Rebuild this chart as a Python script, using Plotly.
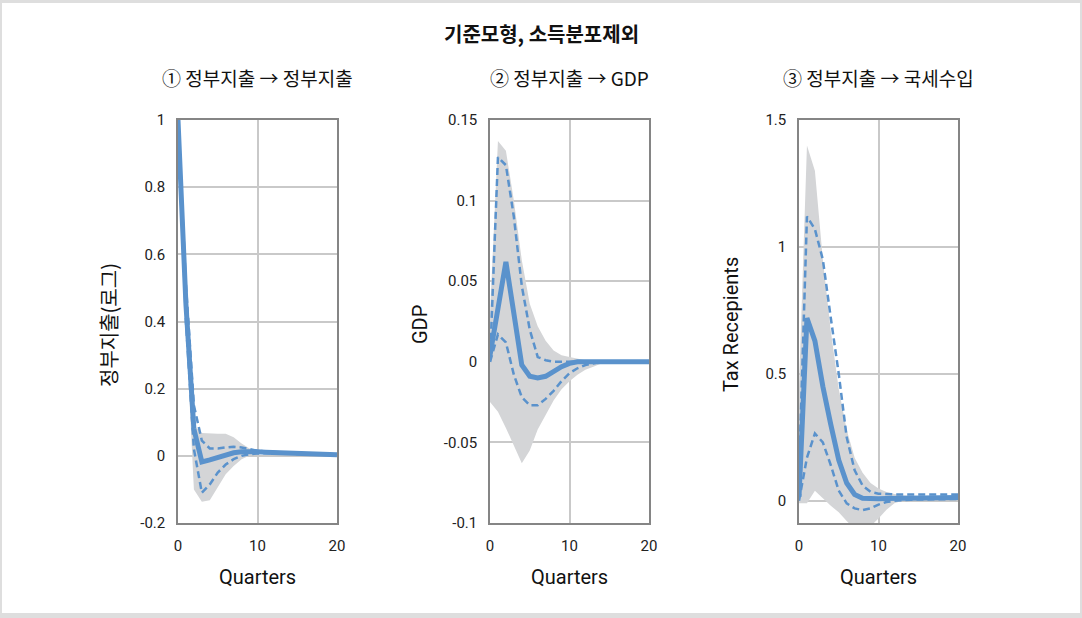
import plotly.graph_objects as go

# ---------------- data ----------------
quarters = list(range(21))

# Panel 1: 정부지출 -> 정부지출
gov_mid = [1.0, 0.45, 0.08, -0.018, -0.012, -0.004, 0.004, 0.009, 0.012, 0.013, 0.012,
           0.011, 0.010, 0.009, 0.008, 0.007, 0.006, 0.006, 0.005, 0.004, 0.003]
gov_up = [1.0, 0.51, 0.15, 0.045, 0.022, 0.022, 0.025, 0.027, 0.025, 0.020, 0.015,
          0.013, 0.011, 0.010, 0.009, 0.008, 0.007, 0.006, 0.005, 0.005, 0.004]
gov_lo = [1.0, 0.40, 0.02, -0.110, -0.085, -0.050, -0.026, -0.010, 0.000, 0.005, 0.007,
          0.008, 0.008, 0.007, 0.006, 0.006, 0.005, 0.004, 0.004, 0.003, 0.003]
gov_band_up = [1.0, 0.53, 0.09, 0.068, 0.066, 0.066, 0.066, 0.055, 0.037, 0.022, 0.015,
               0.012, 0.010, 0.009, 0.008, 0.007, 0.006, 0.005, 0.004, 0.004, 0.003]
gov_band_lo = [1.0, 0.38, -0.10, -0.137, -0.132, -0.095, -0.055, -0.030, -0.010, 0.001, 0.005,
               0.006, 0.006, 0.006, 0.005, 0.005, 0.004, 0.004, 0.003, 0.003, 0.003]

# Panel 2: 정부지출 -> GDP
gdp_mid = [0.004, 0.034, 0.062, 0.030, -0.002, -0.009, -0.010, -0.009, -0.006, -0.003, -0.001,
           0.0, 0.0, 0.0, 0.0, 0.0, 0.0, 0.0, 0.0, 0.0, 0.0]
gdp_up = [0.0, 0.127, 0.122, 0.090, 0.047, 0.020, 0.003, 0.001, 0.0, 0.0, 0.0,
          0.0, 0.0, 0.0, 0.0, 0.0, 0.0, 0.0, 0.0, 0.0, 0.0]
gdp_lo = [0.0, 0.017, 0.012, -0.008, -0.022, -0.027, -0.027, -0.023, -0.018, -0.012, -0.007,
          -0.004, -0.002, -0.001, 0.0, 0.0, 0.0, 0.0, 0.0, 0.0, 0.0]
gdp_band_up = [0.030, 0.137, 0.131, 0.100, 0.063, 0.036, 0.022, 0.013, 0.007, 0.004, 0.003,
               0.002, 0.001, 0.001, 0.0, 0.0, 0.0, 0.0, 0.0, 0.0, 0.0]
gdp_band_lo = [-0.025, -0.031, -0.041, -0.052, -0.063, -0.055, -0.042, -0.033, -0.024, -0.017, -0.012,
               -0.008, -0.005, -0.003, -0.001, 0.0, 0.0, 0.0, 0.0, 0.0, 0.0]

# Panel 3: 정부지출 -> 국세수입
tax_mid = [0.015, 0.72, 0.63, 0.45, 0.30, 0.16, 0.07, 0.025, 0.010, 0.008, 0.008,
           0.009, 0.010, 0.010, 0.011, 0.011, 0.012, 0.012, 0.012, 0.013, 0.013]
tax_up = [0.10, 1.12, 1.07, 0.95, 0.72, 0.50, 0.25, 0.12, 0.06, 0.035, 0.028,
          0.026, 0.025, 0.025, 0.025, 0.025, 0.025, 0.025, 0.025, 0.025, 0.025]
tax_lo = [0.0, 0.17, 0.265, 0.23, 0.14, 0.04, -0.010, -0.030, -0.037, -0.030, -0.015,
          -0.005, 0.0, 0.003, 0.004, 0.005, 0.005, 0.006, 0.006, 0.006, 0.007]
tax_band_up = [0.45, 1.40, 1.30, 0.95, 0.67, 0.44, 0.28, 0.17, 0.11, 0.07, 0.048,
               0.035, 0.027, 0.022, 0.020, 0.020, 0.018, 0.018, 0.017, 0.017, 0.017]
tax_band_lo = [-0.01, -0.01, 0.04, 0.01, -0.02, -0.045, -0.08, -0.11, -0.11, -0.10, -0.07,
               -0.035, -0.01, 0.0, 0.004, 0.005, 0.006, 0.007, 0.008, 0.008, 0.009]

main_title = "기준모형, 소득분포제외"
panel_titles = ["① 정부지출 → 정부지출", "② 정부지출 → GDP", "③ 정부지출 → 국세수입"]
y_titles = ["정부지출(로그)", "GDP", "Tax Recepients"]
x_title = "Quarters"
x_ticks = [0, 10, 20]
y_ticks = [
    ([-0.2, 0, 0.2, 0.4, 0.6, 0.8, 1], ["-0.2", "0", "0.2", "0.4", "0.6", "0.8", "1"]),
    ([-0.1, -0.05, 0, 0.05, 0.1, 0.15], ["-0.1", "-0.05", "0", "0.05", "0.1", "0.15"]),
    ([0, 0.5, 1, 1.5], ["0", "0.5", "1", "1.5"]),
]
y_ranges = [[-0.2, 1.0], [-0.1, 0.15], [-0.0875, 1.5]]

# ---------------- styling / layout ----------------
W, H = 1082, 618
L, R, T, B = 178, 958, 120, 523


def px(x):
    return (x - L) / (R - L)


def py(y):
    return (B - y) / (B - T)


panel_px = [(178, 337), (490, 649), (799, 958)]
BLUE = "rgb(90,146,204)"
SHADE = "rgb(212,213,215)"
FONT = "Roboto, 'Noto Sans CJK KR', sans-serif"
KFONT = "'Noto Sans CJK KR', Roboto, sans-serif"

panels = [
    (gov_mid, gov_up, gov_lo, gov_band_up, gov_band_lo),
    (gdp_mid, gdp_up, gdp_lo, gdp_band_up, gdp_band_lo),
    (tax_mid, tax_up, tax_lo, tax_band_up, tax_band_lo),
]

fig = go.Figure()
for i, (mid, up, lo, bup, blo) in enumerate(panels):
    xa = "x" if i == 0 else f"x{i+1}"
    ya = "y" if i == 0 else f"y{i+1}"
    common = dict(x=quarters, xaxis=xa, yaxis=ya, showlegend=False, hoverinfo="skip")
    fig.add_trace(go.Scatter(y=bup, mode="lines", line=dict(width=0, color=SHADE), **common))
    fig.add_trace(go.Scatter(y=blo, mode="lines", line=dict(width=0, color=SHADE),
                             fill="tonexty", fillcolor=SHADE, **common))
    fig.add_trace(go.Scatter(y=up, mode="lines", line=dict(width=2.5, color=BLUE, dash="7px,4px"), **common))
    fig.add_trace(go.Scatter(y=lo, mode="lines", line=dict(width=2.5, color=BLUE, dash="7px,4px"), **common))
    fig.add_trace(go.Scatter(y=mid, mode="lines", line=dict(width=5, color=BLUE), **common))

layout = dict(
    width=W, height=H,
    margin=dict(l=L, r=W - R, t=T, b=H - B, pad=0),
    paper_bgcolor="#dedede",
    plot_bgcolor="white",
    font=dict(family=FONT, color="#222", size=15),
    showlegend=False,
)
for i in range(3):
    a, b = panel_px[i]
    xk = "xaxis" if i == 0 else f"xaxis{i+1}"
    yk = "yaxis" if i == 0 else f"yaxis{i+1}"
    ya = "y" if i == 0 else f"y{i+1}"
    xa = "x" if i == 0 else f"x{i+1}"
    layout[xk] = dict(
        domain=[px(a), px(b)], anchor=ya, range=[0, 20], tickvals=x_ticks,
        showgrid=True, gridcolor="#c9c9c9", gridwidth=1.5, zeroline=False,
        showline=True, mirror=True, linecolor="#858585", linewidth=1.5,
        ticks="", ticklabelstandoff=8, tickfont=dict(size=15, color="#222"),
    )
    tv, tt = y_ticks[i]
    layout[yk] = dict(
        domain=[0, 1], anchor=xa, range=y_ranges[i], tickvals=tv, ticktext=tt,
        showgrid=True, gridcolor="#c9c9c9", gridwidth=1.5, zeroline=False,
        showline=True, mirror=True, linecolor="#858585", linewidth=1.5,
        ticks="", ticklabelstandoff=8, tickfont=dict(size=15, color="#222"),
    )
fig.update_layout(**layout)

annotations = [
    dict(text=f"<b>{main_title}</b>", x=px(541), y=py(33), font=dict(family=KFONT, size=20, color="#111")),
]
centers = [(a + b) / 2 for a, b in panel_px]
for i in range(3):
    annotations.append(dict(text=panel_titles[i], x=px(centers[i]), y=py(78),
                            font=dict(family=KFONT, size=19, color="#111")))
    annotations.append(dict(text=x_title, x=px(centers[i]), y=py(577),
                            font=dict(family=FONT, size=20, color="#111")))
y_title_x = [108, 420, 731]
for i in range(3):
    annotations.append(dict(text=y_titles[i], x=px(y_title_x[i]), y=py(325), textangle=-90,
                            font=dict(family=KFONT if i == 0 else FONT, size=20, color="#111")))
for an in annotations:
    an.update(xref="paper", yref="paper", xanchor="center", yanchor="middle", showarrow=False)
fig.update_layout(annotations=annotations)

fig.add_shape(type="rect", xref="paper", yref="paper",
              x0=px(2), x1=px(1080), y0=py(613), y1=py(3),
              fillcolor="white", line=dict(width=0), layer="below")

fig.write_html("out.html", config={"displayModeBar": False},
               post_script="document.body.style.margin='0';document.body.style.overflow='hidden';")
